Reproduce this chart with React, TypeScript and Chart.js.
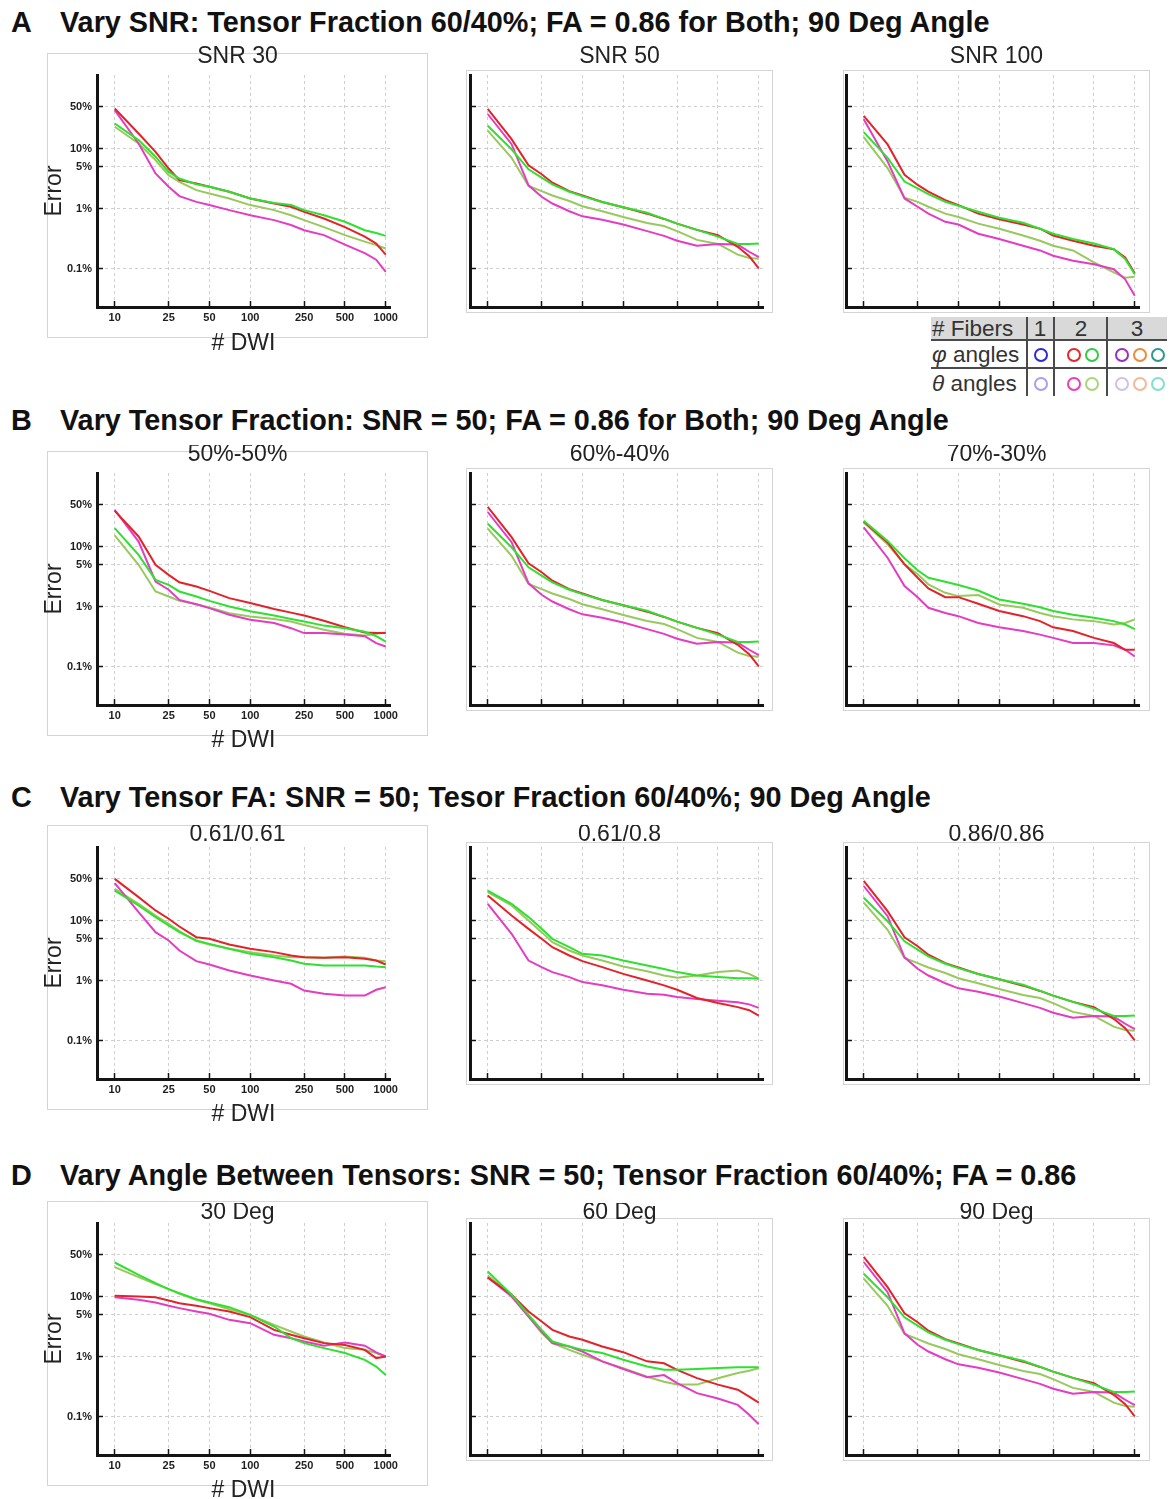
import React, { useEffect, useRef } from 'react';
import { Chart, registerables } from 'chart.js';

Chart.register(...registerables);

// ---------- data (Error in %, versus number of DWI) ----------
const DWI_COUNTS = [10, 15, 20, 25, 30, 40, 50, 70, 100, 150, 200, 250, 350, 500, 700, 850, 1000];
const X_TICKS = [10, 25, 50, 100, 250, 500, 1000];
const Y_TICKS = [0.1, 1, 5, 10, 50];
const Y_TICK_LABELS = ['0.1%', '1%', '5%', '10%', '50%'];

// A: SNR 30
const snr30Red = [46.4, 17.8, 8.8, 4.64, 2.97, 2.61, 2.3, 1.9, 1.47, 1.21, 1.07, 0.88, 0.68, 0.49, 0.34, 0.26, 0.17];
const snr30Green = [26.1, 13.8, 7.3, 4.08, 3.16, 2.54, 2.3, 1.9, 1.47, 1.24, 1.14, 0.94, 0.77, 0.6, 0.435, 0.39, 0.35];
const snr30Magenta = [43.5, 12.1, 3.83, 2.3, 1.61, 1.29, 1.14, 0.94, 0.77, 0.64, 0.53, 0.435, 0.36, 0.25, 0.18, 0.14, 0.088];
const snr30Olive = [23.0, 12.1, 6.4, 3.59, 2.78, 2.02, 1.78, 1.47, 1.14, 0.94, 0.77, 0.64, 0.49, 0.36, 0.28, 0.245, 0.215];

// SNR 50, 60/40%, FA 0.86, 90 deg (shared by A2, B2, C3, D3)
const baseRed = [45.6, 14.3, 5.26, 3.72, 2.69, 1.95, 1.65, 1.28, 1.05, 0.82, 0.67, 0.56, 0.44, 0.36, 0.23, 0.16, 0.1];
const baseGreen = [24.0, 9.7, 4.5, 3.27, 2.52, 1.9, 1.61, 1.28, 1.05, 0.85, 0.67, 0.56, 0.44, 0.34, 0.256, 0.256, 0.26];
const baseMagenta = [37.6, 11.8, 2.43, 1.57, 1.21, 0.9, 0.74, 0.65, 0.54, 0.42, 0.35, 0.29, 0.24, 0.256, 0.25, 0.19, 0.155];
const baseOlive = [19.8, 7.0, 2.37, 1.95, 1.65, 1.33, 1.09, 0.9, 0.72, 0.575, 0.51, 0.42, 0.3, 0.256, 0.17, 0.15, 0.145];

// A: SNR 100
const snr100Red = [35.1, 11.7, 3.65, 2.47, 1.91, 1.38, 1.14, 0.82, 0.66, 0.54, 0.46, 0.355, 0.29, 0.24, 0.21, 0.153, 0.083];
const snr100Green = [18.8, 6.96, 2.81, 2.17, 1.74, 1.29, 1.11, 0.88, 0.7, 0.58, 0.46, 0.38, 0.31, 0.26, 0.21, 0.144, 0.08];
const snr100Magenta = [30.8, 6.1, 1.47, 1.07, 0.82, 0.6, 0.54, 0.38, 0.31, 0.24, 0.2, 0.163, 0.135, 0.118, 0.097, 0.066, 0.035];
const snr100Olive = [15.5, 4.72, 1.51, 1.29, 1.07, 0.82, 0.72, 0.56, 0.46, 0.355, 0.29, 0.24, 0.2, 0.126, 0.086, 0.07, 0.073];

// B: tensor fraction 50%-50%
const tf50Red = [39.3, 14.7, 4.95, 3.37, 2.54, 2.15, 1.82, 1.38, 1.14, 0.91, 0.79, 0.71, 0.58, 0.45, 0.37, 0.36, 0.36];
const tf50Green = [20.2, 7.26, 2.78, 2.3, 1.78, 1.47, 1.24, 1.0, 0.83, 0.71, 0.62, 0.56, 0.48, 0.435, 0.38, 0.32, 0.26];
const tf50Magenta = [40.8, 12.1, 2.61, 1.9, 1.29, 1.09, 0.94, 0.73, 0.6, 0.53, 0.435, 0.36, 0.36, 0.34, 0.32, 0.245, 0.215];
const tf50Olive = [15.3, 4.95, 1.78, 1.47, 1.24, 1.09, 0.96, 0.77, 0.68, 0.62, 0.56, 0.49, 0.41, 0.35, 0.33, 0.35, 0.37];

// B: tensor fraction 70%-30%
const tf70Red = [26.2, 11.7, 5.06, 3.02, 2.0, 1.43, 1.43, 1.11, 0.84, 0.69, 0.57, 0.45, 0.39, 0.3, 0.246, 0.19, 0.19];
const tf70Green = [26.9, 12.4, 6.37, 4.01, 3.02, 2.59, 2.28, 1.85, 1.31, 1.11, 0.97, 0.84, 0.73, 0.65, 0.57, 0.5, 0.42];
const tf70Magenta = [20.8, 6.5, 2.19, 1.43, 0.95, 0.78, 0.69, 0.53, 0.45, 0.39, 0.34, 0.3, 0.246, 0.246, 0.225, 0.19, 0.147];
const tf70Olive = [25.2, 10.9, 5.06, 3.44, 2.34, 1.69, 1.49, 1.55, 1.08, 0.95, 0.78, 0.69, 0.61, 0.57, 0.5, 0.53, 0.61];

// C: FA 0.61/0.61
const fa61Red = [49.5, 24.5, 14.7, 10.7, 7.94, 5.27, 4.95, 3.98, 3.37, 2.97, 2.61, 2.45, 2.39, 2.45, 2.3, 2.15, 1.85];
const fa61Green = [31.6, 17.8, 11.4, 8.26, 6.4, 4.64, 4.08, 3.37, 2.78, 2.45, 2.15, 1.9, 1.78, 1.78, 1.78, 1.71, 1.67];
const fa61Magenta = [41.9, 13.8, 6.4, 4.64, 3.16, 2.1, 1.85, 1.47, 1.21, 1.0, 0.88, 0.68, 0.6, 0.56, 0.56, 0.7, 0.77];
const fa61Olive = [33.7, 19.0, 12.1, 8.8, 6.64, 4.53, 3.98, 3.37, 2.97, 2.61, 2.45, 2.45, 2.39, 2.51, 2.39, 2.15, 2.1];

// C: FA 0.61/0.8
const fa6180Red = [26.1, 12.1, 7.26, 4.95, 3.59, 2.61, 2.1, 1.67, 1.29, 1.0, 0.83, 0.7, 0.51, 0.42, 0.36, 0.32, 0.26];
const fa6180Green = [31.6, 19.0, 11.4, 7.26, 4.95, 3.59, 2.78, 2.61, 2.15, 1.78, 1.56, 1.38, 1.21, 1.14, 1.09, 1.09, 1.07];
const fa6180Magenta = [19.0, 6.0, 2.15, 1.67, 1.38, 1.14, 0.94, 0.83, 0.7, 0.6, 0.58, 0.53, 0.49, 0.46, 0.435, 0.4, 0.35];
const fa6180Olive = [29.7, 17.8, 10.0, 6.4, 4.35, 3.16, 2.61, 2.15, 1.71, 1.43, 1.21, 1.11, 1.21, 1.38, 1.47, 1.29, 1.07];

// D: 30 deg
const deg30Red = [10.3, 10.0, 9.75, 8.58, 7.74, 6.99, 6.4, 5.62, 4.53, 2.78, 2.3, 2.02, 1.67, 1.56, 1.29, 0.94, 1.0];
const deg30Green = [36.9, 23.0, 16.7, 13.3, 11.4, 9.0, 7.94, 6.64, 4.95, 3.16, 2.02, 1.67, 1.38, 1.14, 0.88, 0.68, 0.49];
const deg30Magenta = [9.75, 8.8, 7.94, 6.99, 6.4, 5.62, 5.14, 4.08, 3.59, 2.3, 2.02, 1.78, 1.51, 1.71, 1.51, 1.17, 1.0];
const deg30Olive = [30.8, 21.0, 16.1, 13.3, 11.1, 8.8, 7.74, 6.15, 4.95, 3.37, 2.61, 2.15, 1.71, 1.38, 1.29, 1.14, 1.0];

// D: 60 deg
const deg60Red = [20.7, 10.7, 5.62, 3.83, 2.78, 2.15, 1.9, 1.47, 1.18, 0.83, 0.77, 0.6, 0.435, 0.34, 0.28, 0.215, 0.17];
const deg60Green = [26.1, 10.7, 4.95, 2.78, 1.78, 1.47, 1.29, 1.14, 0.88, 0.68, 0.6, 0.6, 0.62, 0.64, 0.66, 0.66, 0.66];
const deg60Magenta = [20.7, 10.0, 4.64, 2.61, 1.67, 1.47, 1.21, 0.83, 0.62, 0.45, 0.49, 0.36, 0.245, 0.2, 0.156, 0.107, 0.074];
const deg60Olive = [22.4, 10.7, 4.64, 2.45, 1.67, 1.29, 1.07, 0.83, 0.64, 0.46, 0.38, 0.34, 0.34, 0.435, 0.53, 0.58, 0.64];

// ---------- styling / layout ----------
const FONT = "'Liberation Sans', Arial, Helvetica, sans-serif";
const RED = '#e2232a';
const GREEN = '#2fe02f';
const MAGENTA = '#e43cc2';
const OLIVE = '#98c95c';
const GRID = '#cfcfcf';
const AXIS = '#141414';
const X_MIN = 7.4;
const X_MAX = 1075;
const Y_MIN = 0.0228;
const Y_MAX = 168;

const ROWS = [
  { letter: 'A', header: 'Vary SNR: Tensor Fraction 60/40%; FA = 0.86 for Both; 90 Deg Angle', headerY: 22, titleY: 56.5, plotT: 75, plotB: 307, box1T: 53, box1B: 338, box2T: 70, box2B: 313, xTitleY: 344 },
  { letter: 'B', header: 'Vary Tensor Fraction: SNR = 50; FA = 0.86 for Both; 90 Deg Angle', headerY: 420, titleY: 455, plotT: 473, plotB: 705, box1T: 451, box1B: 736, box2T: 468, box2B: 711, xTitleY: 741 },
  { letter: 'C', header: 'Vary Tensor FA: SNR = 50; Tesor Fraction 60/40%; 90 Deg Angle', headerY: 797, titleY: 835, plotT: 847, plotB: 1079, box1T: 825, box1B: 1110, box2T: 842, box2B: 1085, xTitleY: 1115 },
  { letter: 'D', header: 'Vary Angle Between Tensors: SNR = 50; Tensor Fraction 60/40%; FA = 0.86', headerY: 1175, titleY: 1213, plotT: 1223, plotB: 1455, box1T: 1201, box1B: 1486, box2T: 1218, box2B: 1461, xTitleY: 1491 },
];

// canvasL/canvasR are symmetric around the box centre so the chart title stays centred on the box
const COLS = [
  { boxL: 47, boxR: 428, canvasL: 35, canvasR: 440, plotL: 97, plotR: 390, labels: true },
  { boxL: 466, boxR: 773, canvasL: 466, canvasR: 773, plotL: 470, plotR: 763, labels: false },
  { boxL: 843, boxR: 1150, canvasL: 843, canvasR: 1150, plotL: 846, plotR: 1139, labels: false },
];

type PanelDef = { row: number; col: number; title: string; red: number[]; green: number[]; magenta: number[]; olive: number[] };

const PANELS: PanelDef[] = [
  { row: 0, col: 0, title: 'SNR 30', red: snr30Red, green: snr30Green, magenta: snr30Magenta, olive: snr30Olive },
  { row: 0, col: 1, title: 'SNR 50', red: baseRed, green: baseGreen, magenta: baseMagenta, olive: baseOlive },
  { row: 0, col: 2, title: 'SNR 100', red: snr100Red, green: snr100Green, magenta: snr100Magenta, olive: snr100Olive },
  { row: 1, col: 0, title: '50%-50%', red: tf50Red, green: tf50Green, magenta: tf50Magenta, olive: tf50Olive },
  { row: 1, col: 1, title: '60%-40%', red: baseRed, green: baseGreen, magenta: baseMagenta, olive: baseOlive },
  { row: 1, col: 2, title: '70%-30%', red: tf70Red, green: tf70Green, magenta: tf70Magenta, olive: tf70Olive },
  { row: 2, col: 0, title: '0.61/0.61', red: fa61Red, green: fa61Green, magenta: fa61Magenta, olive: fa61Olive },
  { row: 2, col: 1, title: '0.61/0.8', red: fa6180Red, green: fa6180Green, magenta: fa6180Magenta, olive: fa6180Olive },
  { row: 2, col: 2, title: '0.86/0.86', red: baseRed, green: baseGreen, magenta: baseMagenta, olive: baseOlive },
  { row: 3, col: 0, title: '30 Deg', red: deg30Red, green: deg30Green, magenta: deg30Magenta, olive: deg30Olive },
  { row: 3, col: 1, title: '60 Deg', red: deg60Red, green: deg60Green, magenta: deg60Magenta, olive: deg60Olive },
  { row: 3, col: 2, title: '90 Deg', red: baseRed, green: baseGreen, magenta: baseMagenta, olive: baseOlive },
];

const TITLE_SIZE = 23;

function PanelChart({ def }: { def: PanelDef }) {
  const ref = useRef<HTMLCanvasElement | null>(null);
  const row = ROWS[def.row];
  const col = COLS[def.col];
  const labels = col.labels;
  const canvasTop = Math.floor(row.titleY - 10);
  const canvasBottom = labels ? Math.ceil(row.xTitleY + 12) : row.plotB + 8;
  const W = col.canvasR - col.canvasL;
  const H = canvasBottom - canvasTop;

  useEffect(() => {
    const canvas = ref.current;
    if (!canvas) return;
    const titleLH = TITLE_SIZE * 0.8;
    const titlePadTop = row.titleY - canvasTop - titleLH / 2;
    const titlePadBottom = row.plotT - canvasTop - titleLH - titlePadTop;
    const xTitlePadBottom = canvasBottom - row.xTitleY - titleLH / 2;
    const yTitleLH = TITLE_SIZE * 0.6;
    const yTitlePadTop = 55 - col.canvasL - yTitleLH / 2;

    const series = [
      { label: 'φ angle, fiber 2 of 2', data: def.green, color: GREEN },
      { label: 'φ angle, fiber 1 of 2', data: def.red, color: RED },
      { label: 'θ angle, fiber 1 of 2', data: def.magenta, color: MAGENTA },
      { label: 'θ angle, fiber 2 of 2', data: def.olive, color: OLIVE },
    ];

    const tickFont = { family: FONT, size: 11, weight: 'bold' as const };

    const chart = new Chart(canvas, {
      type: 'line',
      data: {
        datasets: series.map((s) => ({
          label: s.label,
          data: DWI_COUNTS.map((x, i) => ({ x, y: s.data[i] })),
          borderColor: s.color,
          backgroundColor: s.color,
          borderWidth: 2,
          pointRadius: 0,
          tension: 0,
          fill: false,
          yAxisID: 'y',
        })),
      },
      options: {
        responsive: false,
        animation: false,
        devicePixelRatio: 1,
        layout: { padding: 0 },
        plugins: {
          legend: { display: false },
          tooltip: { enabled: false },
          title: {
            display: true,
            text: def.title,
            color: '#222',
            font: { family: FONT, size: TITLE_SIZE, weight: 'normal', lineHeight: 0.8 },
            padding: { top: titlePadTop, bottom: titlePadBottom },
          },
        },
        scales: {
          x: {
            type: 'logarithmic',
            position: 'bottom',
            min: X_MIN,
            max: X_MAX,
            afterBuildTicks: (s: any) => {
              s.ticks = X_TICKS.map((v) => ({ value: v }));
            },
            afterFit: (s: any) => {
              s.height = canvasBottom - row.plotB;
              s.paddingLeft = 0;
              s.paddingRight = 0;
            },
            ticks: {
              display: labels,
              autoSkip: false,
              maxRotation: 0,
              minRotation: 0,
              padding: 10,
              color: '#1e1e1e',
              font: tickFont,
              callback: (v: any) => String(v),
            },
            grid: {
              color: GRID,
              lineWidth: 1,
              drawTicks: true,
              tickLength: -6,
              tickColor: AXIS,
              tickWidth: 1.5,
              tickBorderDash: [],
              borderDash: [3, 3],
            } as any,
            border: { display: true, color: AXIS, width: 3, dash: [3, 3] },
            title: {
              display: labels,
              text: '# DWI',
              color: '#222',
              font: { family: FONT, size: TITLE_SIZE, lineHeight: 0.8 },
              padding: { top: 0, bottom: xTitlePadBottom },
            },
          },
          y: {
            type: 'logarithmic',
            position: 'left',
            min: Y_MIN,
            max: Y_MAX,
            afterBuildTicks: (s: any) => {
              s.ticks = Y_TICKS.map((v) => ({ value: v }));
            },
            afterFit: (s: any) => {
              s.width = col.plotL - col.canvasL;
              s.paddingTop = 0;
              s.paddingBottom = 0;
            },
            ticks: {
              display: labels,
              autoSkip: false,
              padding: 11,
              color: '#1e1e1e',
              font: tickFont,
              callback: (v: any) => {
                const i = Y_TICKS.indexOf(Number(v));
                return i >= 0 ? Y_TICK_LABELS[i] : '';
              },
            },
            grid: {
              color: GRID,
              lineWidth: 1,
              drawTicks: true,
              tickLength: -6,
              tickColor: AXIS,
              tickWidth: 1.5,
              tickBorderDash: [],
              borderDash: [3, 3],
            } as any,
            border: { display: true, color: AXIS, width: 3, dash: [3, 3] },
            title: {
              display: labels,
              text: 'Error',
              color: '#222',
              font: { family: FONT, size: TITLE_SIZE, lineHeight: 0.6 },
              padding: { top: yTitlePadTop, bottom: 0 },
            },
          },
          y2: {
            type: 'linear',
            position: 'right',
            display: true,
            grid: { display: false, drawTicks: false },
            ticks: { display: false },
            border: { display: false },
            afterFit: (s: any) => {
              s.width = col.canvasR - col.plotR;
              s.paddingTop = 0;
              s.paddingBottom = 0;
            },
          },
        },
      } as any,
    });
    return () => chart.destroy();
  }, [def]);

  const boxT = labels ? row.box1T : row.box2T;
  const boxB = labels ? row.box1B : row.box2B;
  return (
    <>
      <div
        style={{
          position: 'absolute',
          left: col.boxL,
          top: boxT,
          width: col.boxR - col.boxL,
          height: boxB - boxT,
          border: '1px solid #d4d4d4',
          boxSizing: 'border-box',
        }}
      />
      <canvas
        ref={ref}
        width={W}
        height={H}
        style={{ position: 'absolute', left: col.canvasL, top: canvasTop, width: W, height: H }}
      />
    </>
  );
}

const HEADER_SIZE = 28.8;

function Legend() {
  const line = '#4a4a4a';
  const ring = (x: number, y: number, color: string) => (
    <div
      key={`${x}-${y}`}
      style={{
        position: 'absolute',
        left: x - 7,
        top: y - 7,
        width: 14,
        height: 14,
        borderRadius: '50%',
        border: `2.5px solid ${color}`,
        boxSizing: 'border-box',
      }}
    />
  );
  const text = (t: React.ReactNode, x: number, cy: number, center = false) => (
    <div
      style={{
        position: 'absolute',
        left: center ? x - 20 : x,
        width: center ? 40 : undefined,
        textAlign: center ? 'center' : 'left',
        top: cy - 12,
        fontSize: 22.5,
        lineHeight: '24px',
        color: '#333',
        whiteSpace: 'nowrap',
      }}
    >
      {t}
    </div>
  );
  return (
    <>
      <div style={{ position: 'absolute', left: 931, top: 317, width: 236, height: 23, background: '#d9d9d9' }} />
      <div style={{ position: 'absolute', left: 931, top: 339, width: 236, height: 2, background: line }} />
      <div style={{ position: 'absolute', left: 931, top: 367, width: 236, height: 2, background: line }} />
      <div style={{ position: 'absolute', left: 1026, top: 317, width: 2, height: 79, background: line }} />
      <div style={{ position: 'absolute', left: 1053, top: 317, width: 2, height: 79, background: line }} />
      <div style={{ position: 'absolute', left: 1106, top: 317, width: 2, height: 79, background: line }} />
      {text('# Fibers', 932, 329)}
      {text('1', 1040, 329, true)}
      {text('2', 1081, 329, true)}
      {text('3', 1137, 329, true)}
      {text(<><i>φ</i> angles</>, 932, 355)}
      {text(<><i>θ</i> angles</>, 932, 384)}
      {ring(1041, 355, '#2b2bd4')}
      {ring(1074, 355, '#e8262d')}
      {ring(1092, 355, '#33cc44')}
      {ring(1122, 355, '#9a2fc6')}
      {ring(1140, 355, '#ee8a3c')}
      {ring(1158, 355, '#2a9a8c')}
      {ring(1041, 384, '#a99ff0')}
      {ring(1074, 384, '#ee3eb6')}
      {ring(1092, 384, '#a9d67a')}
      {ring(1122, 384, '#cfc0e8')}
      {ring(1140, 384, '#f4b898')}
      {ring(1158, 384, '#7fe0d2')}
    </>
  );
}

export default function App() {
  const headerStyle = {
    position: 'absolute' as const,
    fontSize: HEADER_SIZE,
    lineHeight: `${HEADER_SIZE}px`,
    fontWeight: 'bold' as const,
    color: '#111',
    whiteSpace: 'nowrap' as const,
  };
  return (
    <div
      style={{
        position: 'absolute',
        left: 0,
        top: 0,
        width: 1171,
        height: 1499,
        background: '#ffffff',
        overflow: 'hidden',
        fontFamily: FONT,
      }}
    >
      {ROWS.map((r) => (
        <React.Fragment key={r.letter}>
          <div style={{ ...headerStyle, left: 11, top: r.headerY - 14 }}>{r.letter}</div>
          <div style={{ ...headerStyle, left: 60, top: r.headerY - 14 }}>{r.header}</div>
        </React.Fragment>
      ))}
      {PANELS.map((p) => (
        <PanelChart key={`${p.row}-${p.col}`} def={p} />
      ))}
      <Legend />
    </div>
  );
}
